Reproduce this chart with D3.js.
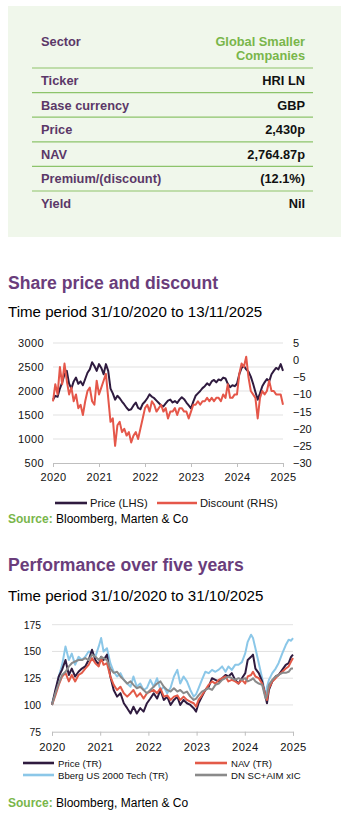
<!DOCTYPE html>
<html><head><meta charset="utf-8">
<script src="https://cdn.jsdelivr.net/npm/d3@7"></script>
<style>
body{margin:0;background:#fff}
svg{display:block}
text{font-family:"Liberation Sans",Arial,Helvetica,sans-serif}
</style>
</head><body>
<svg id="c" width="341" height="817"></svg>
<script>
// ---------- table data ----------
const sectorLabel = "Sector";
const sectorValue = ["Global Smaller", "Companies"];
const tableLabels = ["Ticker", "Base currency", "Price", "NAV", "Premium/(discount)", "Yield"];
const tableValues = ["HRI LN", "GBP", "2,430p", "2,764.87p", "(12.1%)", "Nil"];

// ---------- chart 1: share price and discount ----------
const yearLabels = ["2020", "2021", "2022", "2023", "2024", "2025"];
const priceTicks = [500, 1000, 1500, 2000, 2500, 3000];
const discTicks = [-30, -25, -20, -15, -10, -5, 0, 5];
const spTime = d3.range(0, 5.0001, 0.05); // years since 2020 axis start
const priceLHS = [1820,1900,1880,2050,2180,2350,2420,2150,2050,2200,
  2280,2150,2200,2120,2250,2380,2450,2600,2520,2420,
  2560,2480,2350,2560,2420,2050,1950,1820,1900,1850,
  1780,1720,1650,1600,1620,1700,1760,1650,1620,1730,
  1780,1850,1930,1880,1850,1800,1750,1700,1680,1740,
  1800,1820,1760,1790,1750,1820,1870,1830,1760,1700,
  1640,1780,1900,1950,2000,2060,2100,2160,2120,2200,
  2230,2180,2240,2220,2280,2260,2150,2080,2120,2100,
  2150,2350,2480,2520,2450,2400,2300,2150,1980,1820,
  1950,2100,2180,2250,2200,2350,2420,2480,2450,2560,2420];
const discountRHS = [-12,-7,-10,-2,-7,-1,-6,-10,-8,-12,
  -10,-14,-13,-16,-12,-9,-8,-12,-13,-6,
  -10,-8,-6,-4,-11,-18,-17,-25,-19,-18,
  -21,-20,-22,-21,-24,-22,-21,-23,-20,-17,
  -14,-13,-15,-12,-13,-15,-14,-13,-15,-14,
  -17,-15,-15,-14,-16,-14,-14,-15,-15,-17,
  -15,-13,-13,-12,-13,-12,-12,-11,-12,-11,
  -12,-11,-11,-12,-10,-11,-7,-11,-11,-10,
  -10,-4,-1,-2,1,-5,-9,-10,-11,-17,
  -11,-9,-10,-9,-6,-9,-9,-10,-10,-10,-13];

// ---------- chart 2: performance over five years ----------
const perfTicks = [75, 100, 125, 150, 175];
const perfTime = [0,0.07,0.14,0.21,0.28,0.35,0.41,0.48,0.55,0.62,0.69,0.76,0.83,0.90,0.97,1.02,1.07,1.14,1.21,1.28,
  1.35,1.42,1.49,1.56,1.63,1.69,1.76,1.83,1.90,1.97,2.04,2.11,2.18,2.25,2.32,2.39,2.46,2.53,2.60,2.66,
  2.73,2.80,2.87,2.94,2.99,3.04,3.11,3.18,3.25,3.32,3.39,3.46,3.53,3.60,3.66,3.73,3.80,3.87,3.94,4.01,
  4.06,4.13,4.17,4.22,4.29,4.36,4.43,4.46,4.50,4.57,4.64,4.70,4.78,4.85,4.91,4.96,5.0];
const priceTR = [100,114,126.6,133,142,128,134,126.6,131,134,136,142,151.6,142,137.5,145,142,147,126.6,114,
  107.8,111,101.6,97,92,98.4,92,97,93.8,101.6,106,111,106,114,104.7,107.8,100,104.7,107.8,100,
  104.7,101.6,100,97,93.8,101.6,107.8,114,117,125,123.4,122,125,128,126.6,129.7,123.4,120,125,129.7,
  142,145,147,134,129.7,122,107.8,101.6,114,122,126.6,128,133,137.5,139,145,147];
const navTR = [100,109,118.8,126.6,130,122,128,122,128,130,134,137.5,143.8,139,136,143.8,137.5,139,126.6,118.8,
  114,117,111,107.8,111,114,107.8,111,106,111,112.5,114,111,115.6,107.8,109,104.7,107.8,109,104.7,
  107.8,104.7,103,101.6,98.4,104.7,109,114,118.8,122,120,123.4,125,126.6,122,123.4,122,120,123.4,120,
  126.6,128,131,126.6,125,120,109,104.7,115.6,122,125,128,131,134,136,140.6,143.8];
const bbergTech = [101.6,111,126.6,137.5,154.7,142,148,137.5,145,142,145,150,148.4,145,154.7,162.5,150,153,139,131,
  126.6,129.7,123.4,120,117,126.6,117,120,114,116,123.4,117,125,114,117,111,116,126.6,132.8,120,
  126.6,122,114,107.8,110,115.6,123.4,131,129.7,132.8,131,133,136,131,136,132.8,137.5,137.5,140,148.4,
  159,165.6,162.5,153,139,125,108,117,123.4,129.7,134,139,148.4,156,161,160,162.5];
const dnScAim = [100,111,120,128,131,136,139,140.6,142,142,143.8,142,147,145,142,145,143.8,142,134,130,
  131,126.6,123.4,120,122,118.8,115.6,117,114,111,114,117,120,122,117,114,112.5,115.6,112.5,114,
  111,112.5,107.8,104.7,106,109,112.5,114,115.6,114,118.8,120,123.4,125,126.6,125,123.4,125,123.4,125,
  122,123.4,125,122,120,118.8,106,109,118.8,123.4,126.6,128,130,130,131,134,134];

// ---------- styles ----------
const FONT = '"Liberation Sans",Arial,Helvetica,sans-serif';
const C = {
  panel:"#f0f7eb", rule:"#8dc46b", label:"#5b3868", green:"#79b64a",
  title:"#6a3d7b", dark:"#2f1b3f", red:"#e5574a", nav:"#e35a48",
  blue:"#8bc7e8", gray:"#8a8a8a", grid:"#d9d9d9", axis:"#bfbfbf", text:"#111"
};

const svg = d3.select("#c");

// ---------- table ----------
svg.append("rect").attr("x",8).attr("y",6).attr("width",333).attr("height",231).attr("fill",C.panel);
const rowY = d3.scaleLinear().domain([0,1]).range([68,92.6]);
svg.append("text").attr("x",41).attr("y",46).attr("font-size",12.8).attr("font-weight","bold")
  .attr("fill",C.label).text(sectorLabel);
sectorValue.forEach((s,i)=>svg.append("text").attr("x",305).attr("y",46+i*14.3).attr("text-anchor","end")
  .attr("font-size",12.8).attr("font-weight","bold").attr("fill",C.green).text(s));
tableLabels.forEach((lab,i)=>{
  const y0 = rowY(i);
  svg.append("line").attr("x1",32).attr("x2",313).attr("y1",y0).attr("y2",y0)
    .attr("stroke",C.rule).attr("stroke-width",1.2);
  svg.append("text").attr("x",41).attr("y",y0+17).attr("font-size",12.8).attr("font-weight","bold")
    .attr("fill",C.label).text(lab);
  svg.append("text").attr("x",305).attr("y",y0+17).attr("text-anchor","end").attr("font-size",12.8)
    .attr("font-weight","bold").attr("fill",C.text).text(tableValues[i]);
});

function heading(y1, title, y2, sub){
  svg.append("text").attr("x",8).attr("y",y1).attr("font-size",17.6).attr("font-weight","bold")
    .attr("fill",C.title).text(title);
  svg.append("text").attr("x",8).attr("y",y2).attr("font-size",15.1).attr("fill","#000").text(sub);
}
function source(y){
  const t = svg.append("text").attr("x",8).attr("y",y).attr("font-size",12);
  t.append("tspan").attr("font-weight","bold").attr("fill",C.green).text("Source: ");
  t.append("tspan").attr("fill","#000").text("Bloomberg, Marten & Co");
}
const plain = d3.format("d");

// ---------- chart 1 ----------
heading(289, "Share price and discount", 317, "Time period 31/10/2020 to 13/11/2025");
{
  const x = d3.scaleLinear().domain([0,5]).range([53,283]);
  const yL = d3.scaleLinear().domain([500,3000]).range([463,343]);
  const yR = d3.scaleLinear().domain([-30,5]).range([463,343]);
  const g = svg.append("g");
  g.selectAll(".gr").data(priceTicks.slice(1)).join("line")
    .attr("x1",53).attr("x2",283).attr("y1",d=>yL(d)).attr("y2",d=>yL(d))
    .attr("stroke",C.grid).attr("stroke-width",0.8);
  const ax = g.append("g").attr("transform",`translate(0,${yL(500)})`)
    .call(d3.axisBottom(x).tickValues([0,1,2,3,4,5]).tickFormat((d,i)=>yearLabels[i]).tickSize(4).tickPadding(6));
  ax.select(".domain").attr("stroke",C.axis);
  ax.selectAll(".tick line").attr("stroke",C.axis);
  ax.selectAll("text").attr("font-size",11).attr("font-family",FONT).attr("fill",C.text).attr("letter-spacing",0.4);
  const al = g.append("g").attr("transform","translate(44,0)")
    .call(d3.axisLeft(yL).tickValues(priceTicks).tickFormat(plain).tickSize(0).tickPadding(0));
  al.select(".domain").remove();
  al.selectAll("text").attr("font-size",11).attr("font-family",FONT).attr("fill",C.text).attr("letter-spacing",0.4);
  const ar = g.append("g").attr("transform","translate(293,0)")
    .call(d3.axisRight(yR).tickValues(discTicks).tickFormat(plain).tickSize(0).tickPadding(0));
  ar.select(".domain").remove();
  ar.selectAll("text").attr("font-size",11).attr("font-family",FONT).attr("fill",C.text);

  g.append("path").datum(priceLHS).attr("fill","none").attr("stroke",C.dark).attr("stroke-width",2)
    .attr("stroke-linejoin","round")
    .attr("d",d3.line().x((d,i)=>x(spTime[i])).y(d=>yL(d)));
  g.append("path").datum(discountRHS).attr("fill","none").attr("stroke",C.red).attr("stroke-width",2)
    .attr("stroke-linejoin","round")
    .attr("d",d3.line().x((d,i)=>x(spTime[i])).y(d=>yR(d)));

  const leg = [{n:"Price (LHS)",c:C.dark,x1:55,x2:87,tx:90},{n:"Discount (RHS)",c:C.red,x1:157,x2:197,tx:200}];
  leg.forEach(l=>{
    g.append("line").attr("x1",l.x1).attr("x2",l.x2).attr("y1",503).attr("y2",503).attr("stroke",l.c).attr("stroke-width",2.6);
    g.append("text").attr("x",l.tx).attr("y",507).attr("font-size",11.2).attr("fill",C.text).text(l.n);
  });
}
source(523);

// ---------- chart 2 ----------
heading(571, "Performance over five years", 601, "Time period 31/10/2020 to 31/10/2025");
{
  const x = d3.scaleLinear().domain([0,5]).range([52,293]);
  const y = d3.scaleLinear().domain([75,175]).range([731.7,624.7]);
  const g = svg.append("g");
  g.selectAll(".gr").data(perfTicks.slice(1)).join("line")
    .attr("x1",52).attr("x2",293).attr("y1",d=>y(d)).attr("y2",d=>y(d))
    .attr("stroke",C.grid).attr("stroke-width",0.8);
  const ax = g.append("g").attr("transform",`translate(0,${y(75)})`)
    .call(d3.axisBottom(x).tickValues([0,1,2,3,4,5]).tickFormat((d,i)=>yearLabels[i]).tickSize(4).tickPadding(7));
  ax.select(".domain").attr("stroke",C.axis);
  ax.selectAll(".tick line").attr("stroke",C.axis);
  ax.selectAll("text").attr("font-size",11.2).attr("font-family",FONT).attr("fill",C.text).attr("letter-spacing",0.4);
  const al = g.append("g").attr("transform","translate(41,0)")
    .call(d3.axisLeft(y).tickValues(perfTicks).tickFormat(plain).tickSize(0).tickPadding(0));
  al.select(".domain").remove();
  al.selectAll("text").attr("font-size",10.4).attr("font-family",FONT).attr("fill",C.text);

  const series = [
    {v:bbergTech,c:C.blue},{v:priceTR,c:C.dark},{v:navTR,c:C.nav},{v:dnScAim,c:C.gray}
  ];
  series.forEach(s=>{
    g.append("path").datum(s.v).attr("fill","none").attr("stroke",s.c).attr("stroke-width",2)
      .attr("stroke-linejoin","round")
      .attr("d",d3.line().x((d,i)=>x(perfTime[i])).y(d=>y(d)));
  });
  const leg = [
    {n:"Price (TR)",c:C.dark,x1:23,x2:54,tx:58,y:763},
    {n:"NAV (TR)",c:C.nav,x1:195,x2:227,tx:231,y:763},
    {n:"Bberg US 2000 Tech (TR)",c:C.blue,x1:23,x2:54,tx:58,y:775},
    {n:"DN SC+AIM xIC",c:C.gray,x1:195,x2:227,tx:231,y:775}
  ];
  leg.forEach(l=>{
    g.append("line").attr("x1",l.x1).attr("x2",l.x2).attr("y1",l.y).attr("y2",l.y).attr("stroke",l.c).attr("stroke-width",2.6);
    g.append("text").attr("x",l.tx).attr("y",l.y+3.5).attr("font-size",9.6).attr("fill",C.text).text(l.n);
  });
}
source(807);
</script>
</body></html>
